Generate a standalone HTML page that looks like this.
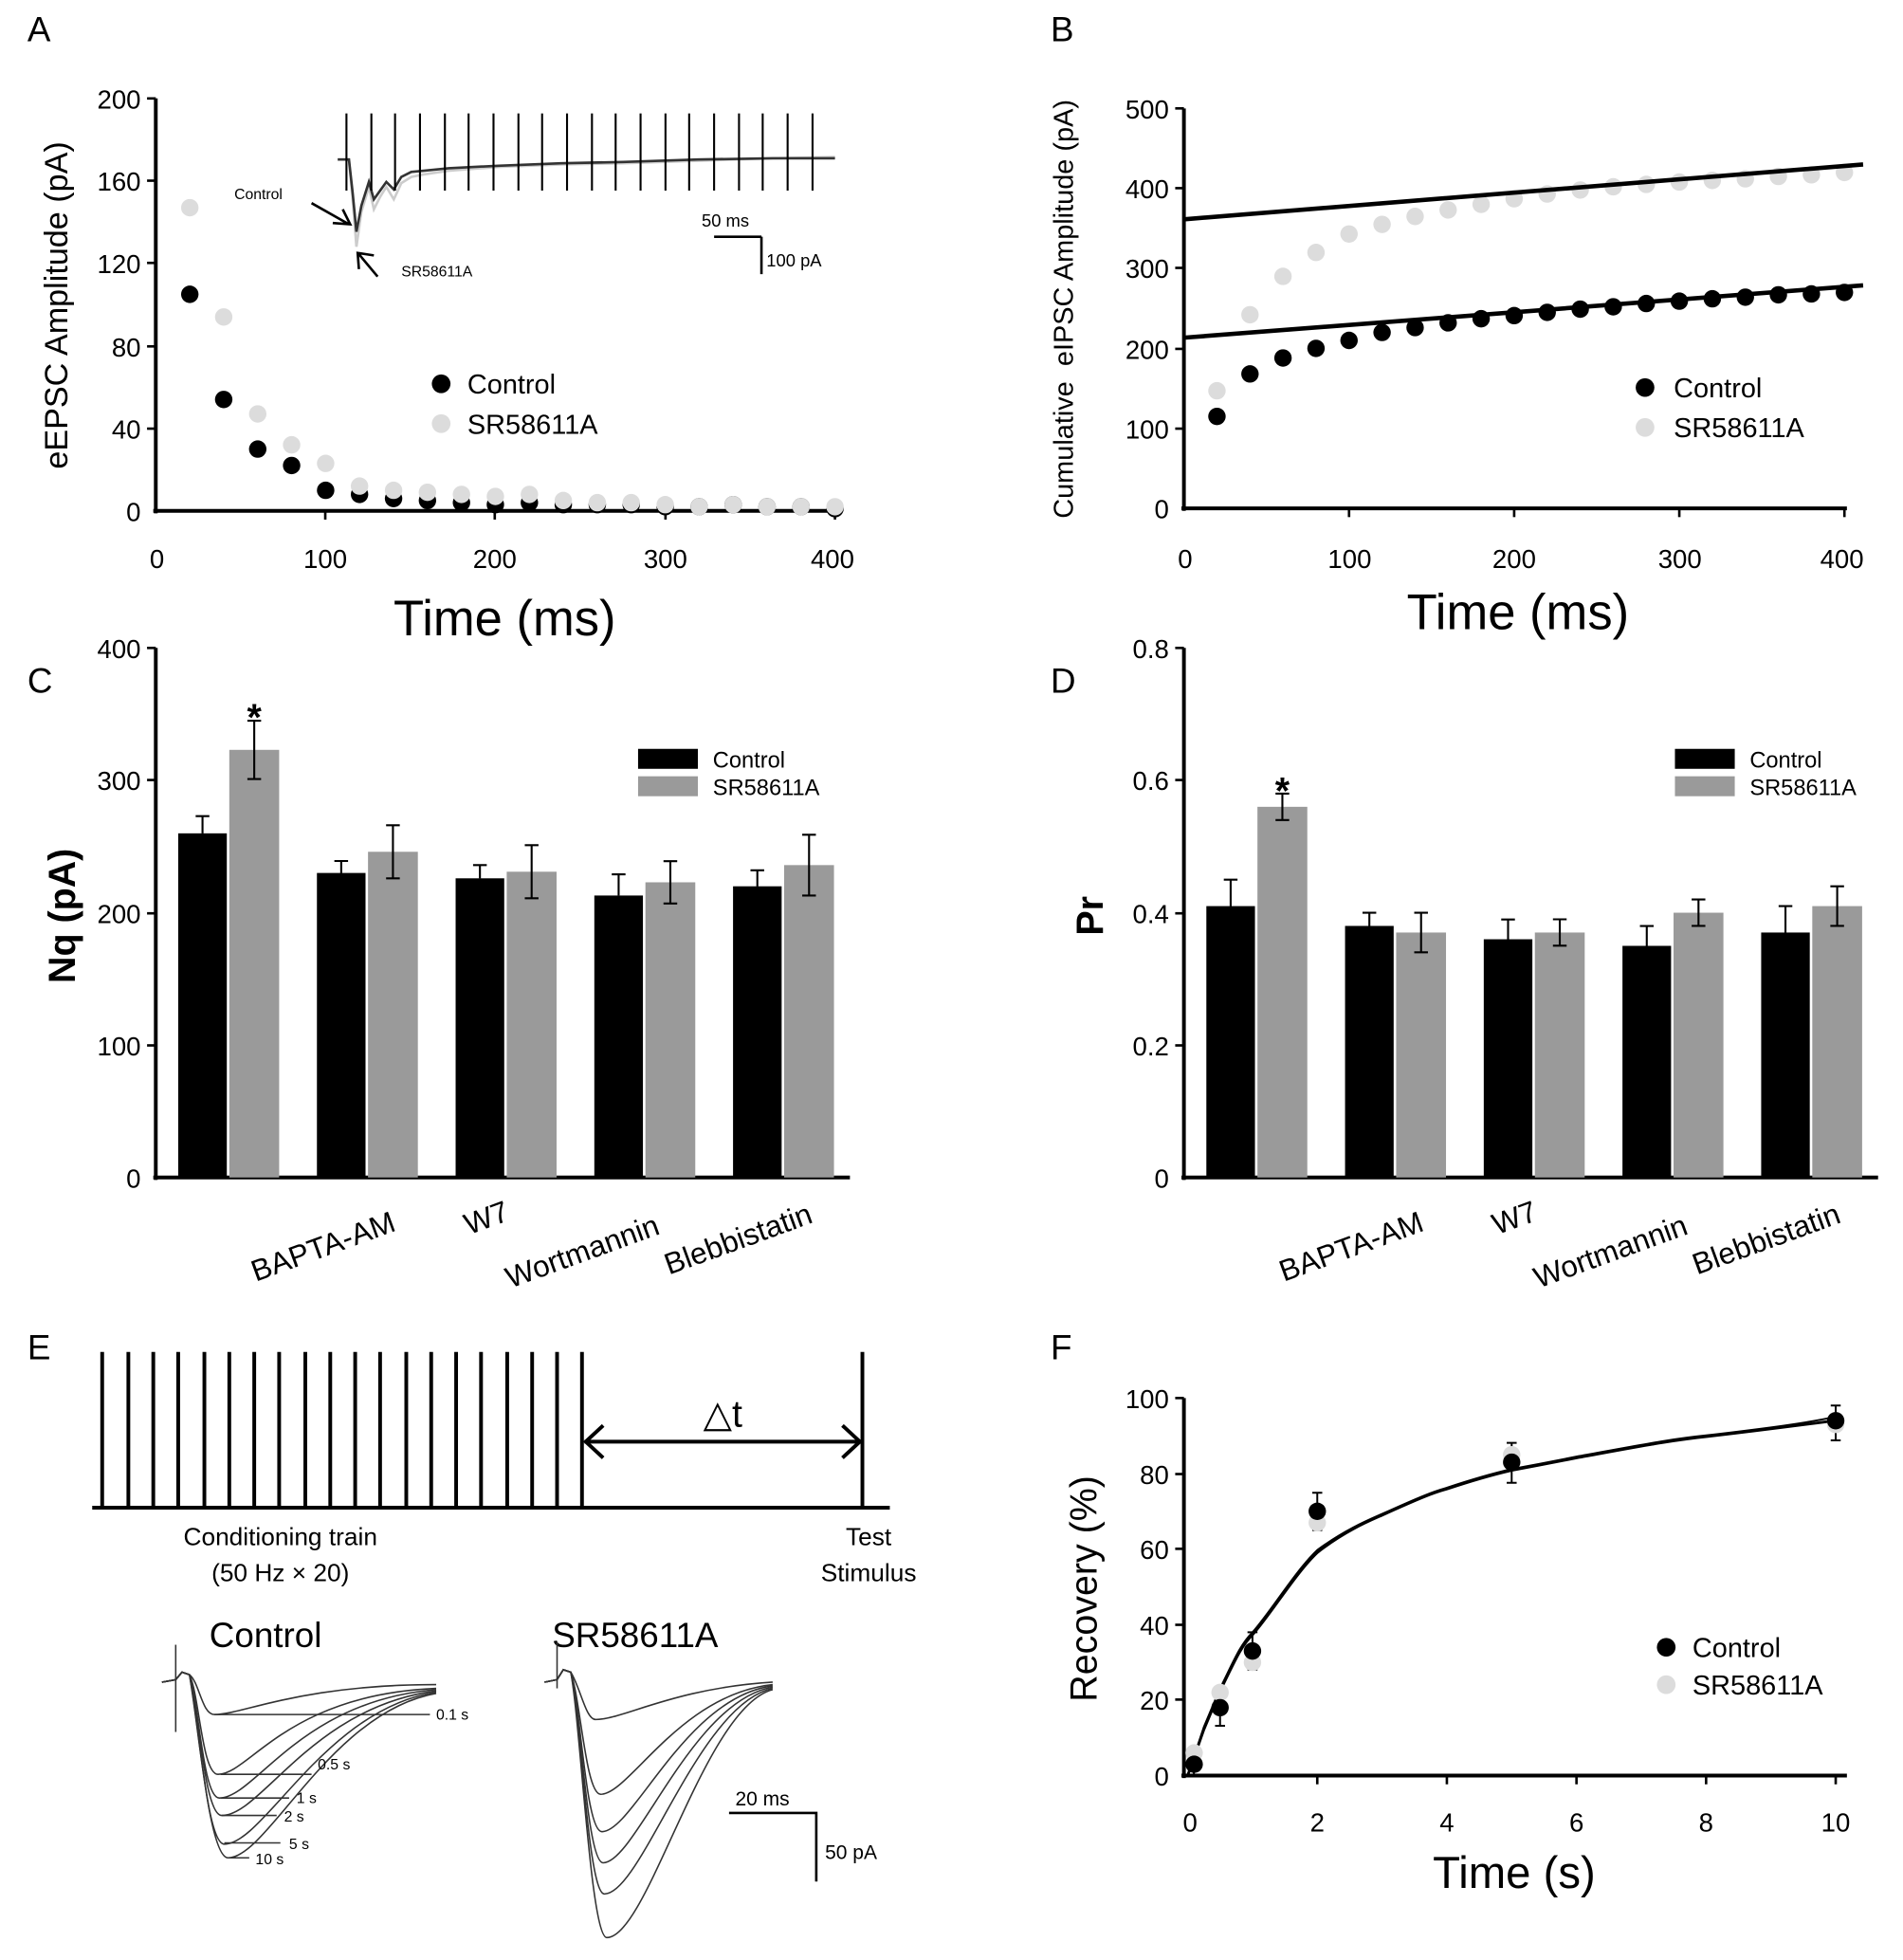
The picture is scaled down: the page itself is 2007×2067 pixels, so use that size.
<!DOCTYPE html>
<html><head><meta charset="utf-8"><style>
html,body{margin:0;padding:0;background:#fff;}
svg{display:block;}
text{font-family:"Liberation Sans",Arial,sans-serif;fill:#000;}
</style></head><body>
<svg width="2007" height="2067" viewBox="0 0 1527 1573" preserveAspectRatio="none" xmlns="http://www.w3.org/2000/svg">
<rect width="1527" height="1573" fill="#fff"/>
<g font-size="28"><text x="22" y="33">A</text><text x="843" y="33">B</text><text x="22" y="556">C</text><text x="843" y="556">D</text><text x="22" y="1091">E</text><text x="843" y="1091">F</text></g>

<!-- ========== A ========== -->
<g stroke="#000" stroke-width="3" fill="none">
<line x1="125" y1="79" x2="125" y2="412"/><line x1="123" y1="410" x2="672" y2="410"/>
</g>
<g stroke="#000" stroke-width="2">
<line x1="118" y1="79" x2="125" y2="79"/><line x1="118" y1="145" x2="125" y2="145"/><line x1="118" y1="211" x2="125" y2="211"/><line x1="118" y1="278" x2="125" y2="278"/><line x1="118" y1="344" x2="125" y2="344"/>
<line x1="261" y1="410" x2="261" y2="417"/><line x1="397" y1="410" x2="397" y2="417"/><line x1="534" y1="410" x2="534" y2="417"/><line x1="670" y1="410" x2="670" y2="417"/>
</g>
<g font-size="21" text-anchor="end"><text x="113" y="87">200</text><text x="113" y="153">160</text><text x="113" y="219">120</text><text x="113" y="286">80</text><text x="113" y="352">40</text><text x="113" y="418">0</text></g>
<g font-size="21" text-anchor="middle"><text x="126" y="456">0</text><text x="261" y="456">100</text><text x="397" y="456">200</text><text x="534" y="456">300</text><text x="668" y="456">400</text></g>
<text x="405" y="510" font-size="40" text-anchor="middle">Time (ms)</text>
<text transform="translate(54,245) rotate(-90)" font-size="26" text-anchor="middle">eEPSC Amplitude (pA)</text>
<g fill="#000">
<circle cx="152.3" cy="236.2" r="7"/><circle cx="179.5" cy="320.6" r="7"/><circle cx="206.8" cy="360.4" r="7"/><circle cx="234" cy="373.6" r="7"/><circle cx="261.3" cy="393.5" r="7"/><circle cx="288.5" cy="396.8" r="7"/><circle cx="315.8" cy="400.1" r="7"/><circle cx="343" cy="401.7" r="7"/><circle cx="370.3" cy="403.4" r="7"/><circle cx="397.5" cy="405" r="7"/><circle cx="424.8" cy="403.4" r="7"/><circle cx="452" cy="405" r="7"/><circle cx="479.3" cy="405" r="7"/><circle cx="506.5" cy="405" r="7"/><circle cx="533.8" cy="406.7" r="7"/><circle cx="561" cy="406.7" r="7"/><circle cx="588.3" cy="405" r="7"/><circle cx="615.5" cy="406.7" r="7"/><circle cx="642.8" cy="406.7" r="7"/><circle cx="670" cy="408.3" r="7"/>
</g>
<g fill="#dcdcdc">
<circle cx="152.3" cy="166.7" r="7"/><circle cx="179.5" cy="254.4" r="7"/><circle cx="206.8" cy="332.2" r="7"/><circle cx="234" cy="357" r="7"/><circle cx="261.3" cy="371.9" r="7"/><circle cx="288.5" cy="390.1" r="7"/><circle cx="315.8" cy="393.5" r="7"/><circle cx="343" cy="395.1" r="7"/><circle cx="370.3" cy="396.8" r="7"/><circle cx="397.5" cy="398.4" r="7"/><circle cx="424.8" cy="396.8" r="7"/><circle cx="452" cy="401.7" r="7"/><circle cx="479.3" cy="403.4" r="7"/><circle cx="506.5" cy="403.4" r="7"/><circle cx="533.8" cy="405" r="7"/><circle cx="561" cy="406.7" r="7"/><circle cx="588.3" cy="405" r="7"/><circle cx="615.5" cy="406.7" r="7"/><circle cx="642.8" cy="406.7" r="7"/><circle cx="670" cy="406.7" r="7"/>
</g>
<path d="M271,128 L280,128 L283,160 L286,198 L290,170 L296,150 L300,168 L305,158 L310,150 L316,160 L322,147 L330,142 L340,140 L360,137 L400,134 L450,132 L500,131 L560,129 L620,127 L670,126" stroke="#ccc" stroke-width="2" fill="none"/>
<path d="M271,128 L280,128 L283,155 L286,186 L290,165 L296,146 L300,160 L305,153 L310,146 L316,152 L322,142 L330,138 L340,137 L360,135 L400,133 L450,131 L500,130 L560,128 L620,127 L670,127" stroke="#333" stroke-width="2" fill="none"/>
<g stroke="#000" stroke-width="1.6">
<line x1="278" y1="91" x2="278" y2="153"/><line x1="298" y1="91" x2="298" y2="153"/><line x1="317" y1="91" x2="317" y2="153"/><line x1="337" y1="91" x2="337" y2="153"/><line x1="357" y1="91" x2="357" y2="153"/><line x1="376" y1="91" x2="376" y2="153"/><line x1="396" y1="91" x2="396" y2="153"/><line x1="416" y1="91" x2="416" y2="153"/><line x1="435" y1="91" x2="435" y2="153"/><line x1="455" y1="91" x2="455" y2="153"/><line x1="475" y1="91" x2="475" y2="153"/><line x1="494" y1="91" x2="494" y2="153"/><line x1="514" y1="91" x2="514" y2="153"/><line x1="534" y1="91" x2="534" y2="153"/><line x1="553" y1="91" x2="553" y2="153"/><line x1="573" y1="91" x2="573" y2="153"/><line x1="593" y1="91" x2="593" y2="153"/><line x1="612" y1="91" x2="612" y2="153"/><line x1="632" y1="91" x2="632" y2="153"/><line x1="652" y1="91" x2="652" y2="153"/>
</g>
<text x="188" y="160" font-size="12">Control</text>
<path d="M250,163 L280,180 M267,179 L281,180 L275,168" stroke="#000" stroke-width="2" fill="none"/>
<path d="M303,222 L288,204 M288,216 L287,203 L300,205" stroke="#000" stroke-width="2" fill="none"/>
<text x="322" y="222" font-size="12">SR58611A</text>
<path d="M573,190 L611,190 M611,190 L611,220" stroke="#000" stroke-width="2" fill="none"/>
<text x="563" y="182" font-size="14">50 ms</text><text x="615" y="214" font-size="14">100 pA</text>
<circle cx="354" cy="308" r="7.5" fill="#000"/><text x="375" y="316" font-size="22">Control</text>
<circle cx="354" cy="340" r="7.5" fill="#dcdcdc"/><text x="375" y="348" font-size="22">SR58611A</text>

<!-- ========== B ========== -->
<g stroke="#000" stroke-width="3" fill="none"><line x1="950" y1="87" x2="950" y2="410"/><line x1="948" y1="408" x2="1482" y2="408"/></g>
<g stroke="#000" stroke-width="2">
<line x1="943" y1="87" x2="950" y2="87"/><line x1="943" y1="151" x2="950" y2="151"/><line x1="943" y1="215" x2="950" y2="215"/><line x1="943" y1="280" x2="950" y2="280"/><line x1="943" y1="344" x2="950" y2="344"/>
<line x1="1082.5" y1="408" x2="1082.5" y2="415"/><line x1="1215" y1="408" x2="1215" y2="415"/><line x1="1347.5" y1="408" x2="1347.5" y2="415"/><line x1="1480" y1="408" x2="1480" y2="415"/>
</g>
<g font-size="21" text-anchor="end"><text x="938" y="95">500</text><text x="938" y="159">400</text><text x="938" y="223">300</text><text x="938" y="288">200</text><text x="938" y="352">100</text><text x="938" y="416">0</text></g>
<g font-size="21" text-anchor="middle"><text x="951" y="456">0</text><text x="1083" y="456">100</text><text x="1215" y="456">200</text><text x="1348" y="456">300</text><text x="1478" y="456">400</text></g>
<text x="1218" y="505" font-size="40" text-anchor="middle">Time (ms)</text>
<text transform="translate(861,248) rotate(-90)" font-size="22" text-anchor="middle" xml:space="preserve">Cumulative  eIPSC Amplitude (pA)</text>
<g fill="#dcdcdc">
<circle cx="976.5" cy="313.6" r="7"/><circle cx="1003" cy="252.6" r="7"/><circle cx="1029.5" cy="221.8" r="7"/><circle cx="1056" cy="202.6" r="7"/><circle cx="1082.5" cy="187.8" r="7"/><circle cx="1109" cy="180.1" r="7"/><circle cx="1135.5" cy="173.7" r="7"/><circle cx="1162" cy="168.5" r="7"/><circle cx="1188.5" cy="164" r="7"/><circle cx="1215" cy="159.5" r="7"/><circle cx="1241.5" cy="155.7" r="7"/><circle cx="1268" cy="152.5" r="7"/><circle cx="1294.5" cy="149.9" r="7"/><circle cx="1321" cy="148" r="7"/><circle cx="1347.5" cy="146.1" r="7"/><circle cx="1374" cy="144.8" r="7"/><circle cx="1400.5" cy="143.5" r="7"/><circle cx="1427" cy="141.6" r="7"/><circle cx="1453.5" cy="140.3" r="7"/><circle cx="1480" cy="138.4" r="7"/>
</g>
<g fill="#000">
<circle cx="976.5" cy="334.2" r="7"/><circle cx="1003" cy="300.1" r="7"/><circle cx="1029.5" cy="287.3" r="7"/><circle cx="1056" cy="279.6" r="7"/><circle cx="1082.5" cy="273.2" r="7"/><circle cx="1109" cy="266.8" r="7"/><circle cx="1135.5" cy="262.9" r="7"/><circle cx="1162" cy="259.1" r="7"/><circle cx="1188.5" cy="255.8" r="7"/><circle cx="1215" cy="253.3" r="7"/><circle cx="1241.5" cy="250.7" r="7"/><circle cx="1268" cy="248.1" r="7"/><circle cx="1294.5" cy="246.2" r="7"/><circle cx="1321" cy="243.6" r="7"/><circle cx="1347.5" cy="241.7" r="7"/><circle cx="1374" cy="239.8" r="7"/><circle cx="1400.5" cy="238.5" r="7"/><circle cx="1427" cy="236.6" r="7"/><circle cx="1453.5" cy="235.9" r="7"/><circle cx="1480" cy="234.7" r="7"/>
</g>
<line x1="950" y1="176" x2="1495" y2="132" stroke="#000" stroke-width="3.5"/>
<line x1="950" y1="271" x2="1495" y2="229" stroke="#000" stroke-width="3.5"/>
<circle cx="1320" cy="311" r="7.5" fill="#000"/><text x="1343" y="319" font-size="22">Control</text>
<circle cx="1320" cy="343" r="7.5" fill="#dcdcdc"/><text x="1343" y="351" font-size="22">SR58611A</text>

<!-- ========== C ========== -->
<g stroke="#000" stroke-width="3" fill="none"><line x1="125" y1="520" x2="125" y2="947"/><line x1="123" y1="945" x2="682" y2="945"/></g>
<g stroke="#000" stroke-width="2"><line x1="118" y1="520" x2="125" y2="520"/><line x1="118" y1="626" x2="125" y2="626"/><line x1="118" y1="733" x2="125" y2="733"/><line x1="118" y1="839" x2="125" y2="839"/></g>
<g font-size="21" text-anchor="end"><text x="113" y="528">400</text><text x="113" y="634">300</text><text x="113" y="741">200</text><text x="113" y="847">100</text><text x="113" y="953">0</text></g>
<text transform="translate(60,735) rotate(-90)" font-size="30" font-weight="bold" text-anchor="middle">Nq (pA)</text>
<g fill="#000">
<rect x="143" y="668.8" width="39" height="276.2"/><rect x="254.3" y="700.6" width="39" height="244.4"/><rect x="365.6" y="704.9" width="39" height="240.1"/><rect x="476.9" y="718.7" width="39" height="226.3"/><rect x="588.2" y="711.3" width="39" height="233.7"/>
</g>
<g fill="#9a9a9a">
<rect x="184" y="601.8" width="40" height="343.2"/><rect x="295.3" y="683.6" width="40" height="261.4"/><rect x="406.6" y="699.6" width="40" height="245.4"/><rect x="517.9" y="708.1" width="40" height="236.9"/><rect x="629.2" y="694.3" width="40" height="250.7"/>
</g>
<g stroke="#000" stroke-width="1.6" fill="none">
<path d="M162.5,668.8V655M157,655H168"/><path d="M273.8,700.6V691M268.3,691H279.3"/><path d="M385.1,704.9V694.3M379.6,694.3H390.6"/><path d="M496.4,718.7V701.7M490.9,701.7H501.9"/><path d="M607.7,711.3V698.5M602.2,698.5H613.2"/>
<path d="M204,601.8V578.4M198.5,578.4H209.5M204,601.8V625.2M198.5,625.2H209.5"/>
<path d="M315.3,683.6V662.3M309.8,662.3H320.8M315.3,683.6V704.9M309.8,704.9H320.8"/>
<path d="M426.6,699.6V678.3M421.1,678.3H432.1M426.6,699.6V720.9M421.1,720.9H432.1"/>
<path d="M537.9,708.1V691.1M532.4,691.1H543.4M537.9,708.1V725.1M532.4,725.1H543.4"/>
<path d="M649.2,694.3V669.9M643.7,669.9H654.7M649.2,694.3V718.7M643.7,718.7H654.7"/>
<path d="M162.5,668.8V682.6M157,682.6H168"/><path d="M273.8,700.6V710.2M268.3,710.2H279.3"/><path d="M385.1,704.9V715.5M379.6,715.5H390.6"/><path d="M496.4,718.7V735.7M490.9,735.7H501.9"/><path d="M607.7,711.3V724.1M602.2,724.1H613.2"/>
</g>
<text x="204" y="586" font-size="30" font-weight="bold" text-anchor="middle">*</text>
<rect x="512" y="601" width="48" height="16" fill="#000"/><text x="572" y="616" font-size="18">Control</text>
<rect x="512" y="623" width="48" height="16" fill="#9a9a9a"/><text x="572" y="638" font-size="18">SR58611A</text>
<g font-size="24" text-anchor="middle">
<text transform="translate(262,1008) rotate(-20)">BAPTA-AM</text>
<text transform="translate(393,985) rotate(-20)">W7</text>
<text transform="translate(470,1012) rotate(-20)">Wortmannin</text>
<text transform="translate(595,1002) rotate(-20)">Blebbistatin</text>
</g>

<!-- ========== D ========== -->
<g stroke="#000" stroke-width="3" fill="none"><line x1="950" y1="520" x2="950" y2="947"/><line x1="948" y1="945" x2="1507" y2="945"/></g>
<g stroke="#000" stroke-width="2"><line x1="943" y1="520" x2="950" y2="520"/><line x1="943" y1="626" x2="950" y2="626"/><line x1="943" y1="733" x2="950" y2="733"/><line x1="943" y1="839" x2="950" y2="839"/></g>
<g font-size="21" text-anchor="end"><text x="938" y="528">0.8</text><text x="938" y="634">0.6</text><text x="938" y="741">0.4</text><text x="938" y="847">0.2</text><text x="938" y="953">0</text></g>
<text transform="translate(885,735) rotate(-90)" font-size="30" font-weight="bold" text-anchor="middle">Pr</text>
<g fill="#000">
<rect x="968" y="727.2" width="39" height="217.8"/><rect x="1079.3" y="743.1" width="39" height="201.9"/><rect x="1190.6" y="753.8" width="39" height="191.2"/><rect x="1301.9" y="759.1" width="39" height="185.9"/><rect x="1413.2" y="748.4" width="39" height="196.6"/>
</g>
<g fill="#9a9a9a">
<rect x="1009" y="647.5" width="40" height="297.5"/><rect x="1120.3" y="748.4" width="40" height="196.6"/><rect x="1231.6" y="748.4" width="40" height="196.6"/><rect x="1342.9" y="732.5" width="40" height="212.5"/><rect x="1454.2" y="727.2" width="40" height="217.8"/>
</g>
<g stroke="#000" stroke-width="1.6" fill="none">
<path d="M987.5,727.2V706M982,706H993M987.5,727.2V748.4M982,748.4H993"/>
<path d="M1098.8,743.1V732.5M1093.3,732.5H1104.3M1098.8,743.1V753.7M1093.3,753.7H1104.3"/>
<path d="M1210.1,753.8V737.9M1204.6,737.9H1215.6M1210.1,753.8V769.7M1204.6,769.7H1215.6"/>
<path d="M1321.4,759.1V743.2M1315.9,743.2H1326.9M1321.4,759.1V775M1315.9,775H1326.9"/>
<path d="M1432.7,748.4V727.2M1427.2,727.2H1438.2M1432.7,748.4V769.6M1427.2,769.6H1438.2"/>
<path d="M1029,647.5V636.9M1023.5,636.9H1034.5M1029,647.5V658.1M1023.5,658.1H1034.5"/>
<path d="M1140.3,748.4V732.5M1134.8,732.5H1145.8M1140.3,748.4V764.3M1134.8,764.3H1145.8"/>
<path d="M1251.6,748.4V737.8M1246.1,737.8H1257.1M1251.6,748.4V759M1246.1,759H1257.1"/>
<path d="M1362.9,732.5V721.9M1357.4,721.9H1368.4M1362.9,732.5V743.1M1357.4,743.1H1368.4"/>
<path d="M1474.2,727.2V711.3M1468.7,711.3H1479.7M1474.2,727.2V743.1M1468.7,743.1H1479.7"/>
</g>
<text x="1029" y="645" font-size="30" font-weight="bold" text-anchor="middle">*</text>
<rect x="1344" y="601" width="48" height="16" fill="#000"/><text x="1404" y="616" font-size="18">Control</text>
<rect x="1344" y="623" width="48" height="16" fill="#9a9a9a"/><text x="1404" y="638" font-size="18">SR58611A</text>
<g font-size="24" text-anchor="middle">
<text transform="translate(1087,1008) rotate(-20)">BAPTA-AM</text>
<text transform="translate(1218,985) rotate(-20)">W7</text>
<text transform="translate(1295,1012) rotate(-20)">Wortmannin</text>
<text transform="translate(1420,1002) rotate(-20)">Blebbistatin</text>
</g>

<!-- ========== E ========== -->
<g stroke="#000" stroke-width="3">
<line x1="74" y1="1210" x2="714" y2="1210"/>
<line x1="82" y1="1085" x2="82" y2="1210"/><line x1="103" y1="1085" x2="103" y2="1210"/><line x1="123" y1="1085" x2="123" y2="1210"/><line x1="143" y1="1085" x2="143" y2="1210"/><line x1="164" y1="1085" x2="164" y2="1210"/><line x1="184" y1="1085" x2="184" y2="1210"/><line x1="204" y1="1085" x2="204" y2="1210"/><line x1="224" y1="1085" x2="224" y2="1210"/><line x1="245" y1="1085" x2="245" y2="1210"/><line x1="265" y1="1085" x2="265" y2="1210"/><line x1="285" y1="1085" x2="285" y2="1210"/><line x1="305" y1="1085" x2="305" y2="1210"/><line x1="326" y1="1085" x2="326" y2="1210"/><line x1="346" y1="1085" x2="346" y2="1210"/><line x1="366" y1="1085" x2="366" y2="1210"/><line x1="386" y1="1085" x2="386" y2="1210"/><line x1="407" y1="1085" x2="407" y2="1210"/><line x1="427" y1="1085" x2="427" y2="1210"/><line x1="447" y1="1085" x2="447" y2="1210"/><line x1="467" y1="1085" x2="467" y2="1210"/>
<line x1="692" y1="1085" x2="692" y2="1210"/>
<line x1="469" y1="1157" x2="690" y2="1157"/>
</g>
<path d="M484,1144 L470,1157 L484,1170 M676,1144 L690,1157 L676,1170" stroke="#000" stroke-width="3" fill="none"/>
<text x="580" y="1145" font-size="30" text-anchor="middle">△t</text>
<g font-size="20" text-anchor="middle"><text x="225" y="1240">Conditioning train</text><text x="225" y="1269">(50 Hz × 20)</text><text x="697" y="1240">Test</text><text x="697" y="1269">Stimulus</text></g>
<text x="168" y="1322" font-size="28">Control</text>
<text x="443" y="1322" font-size="28">SR58611A</text>
<g stroke="#333" stroke-width="1.2" fill="none">
<line x1="141" y1="1320" x2="141" y2="1390"/>
<path d="M130,1350 L141,1348 L146,1342 L152,1344 C160,1350 162,1376 172,1376 C195,1376 240,1352 350,1352"/>
<path d="M130,1350 L141,1348 L146,1342 L152,1344 C160,1360 162,1424 175,1424 C200,1424 230,1360 350,1355"/>
<path d="M130,1350 L141,1348 L146,1342 L152,1344 C160,1370 163,1443 176,1443 C205,1443 240,1365 350,1356"/>
<path d="M130,1350 L141,1348 L146,1342 L152,1344 C160,1375 164,1457 178,1457 C210,1457 250,1370 350,1357"/>
<path d="M130,1350 L141,1348 L146,1342 L152,1344 C160,1385 166,1480 180,1480 C212,1480 260,1372 350,1358"/>
<path d="M130,1350 L141,1348 L146,1342 L152,1344 C160,1390 168,1491 183,1491 C215,1491 265,1374 350,1359"/>
<line x1="447" y1="1318" x2="447" y2="1355"/>
<path d="M437,1350 L447,1348 L452,1340 L458,1342 C466,1355 470,1380 478,1380 C500,1380 540,1355 620,1350"/>
<path d="M437,1350 L447,1348 L452,1340 L458,1342 C466,1365 470,1440 482,1440 C505,1440 545,1360 620,1352"/>
<path d="M437,1350 L447,1348 L452,1340 L458,1342 C466,1370 470,1470 483,1470 C508,1470 550,1362 620,1353"/>
<path d="M437,1350 L447,1348 L452,1340 L458,1342 C466,1375 471,1495 484,1495 C510,1495 555,1365 620,1354"/>
<path d="M437,1350 L447,1348 L452,1340 L458,1342 C466,1380 472,1520 485,1520 C515,1520 560,1368 620,1355"/>
<path d="M437,1350 L447,1348 L452,1340 L458,1342 C466,1385 474,1555 487,1555 C520,1555 565,1370 620,1356"/>
<path d="M172,1376 H345 M177,1424 H250 M177,1443 H232 M178,1457 H222 M180,1479 H225 M183,1491 H200"/>
</g>
<g font-size="12"><text x="350" y="1380">0.1 s</text><text x="255" y="1420">0.5 s</text><text x="238" y="1447">1 s</text><text x="228" y="1462">2 s</text><text x="232" y="1484">5 s</text><text x="205" y="1496">10 s</text></g>
<path d="M585,1455 H655 V1510" stroke="#000" stroke-width="2" fill="none"/>
<text x="590" y="1449" font-size="16">20 ms</text><text x="662" y="1492" font-size="16">50 pA</text>

<!-- ========== F ========== -->
<g stroke="#000" stroke-width="3" fill="none"><line x1="950" y1="1122" x2="950" y2="1427"/><line x1="948" y1="1425" x2="1482" y2="1425"/></g>
<g stroke="#000" stroke-width="2">
<line x1="943" y1="1122" x2="950" y2="1122"/><line x1="943" y1="1183" x2="950" y2="1183"/><line x1="943" y1="1243" x2="950" y2="1243"/><line x1="943" y1="1304" x2="950" y2="1304"/><line x1="943" y1="1364" x2="950" y2="1364"/>
<line x1="1057" y1="1425" x2="1057" y2="1432"/><line x1="1161" y1="1425" x2="1161" y2="1432"/><line x1="1265" y1="1425" x2="1265" y2="1432"/><line x1="1369" y1="1425" x2="1369" y2="1432"/><line x1="1473" y1="1425" x2="1473" y2="1432"/>
</g>
<g font-size="21" text-anchor="end"><text x="938" y="1130">100</text><text x="938" y="1191">80</text><text x="938" y="1251">60</text><text x="938" y="1312">40</text><text x="938" y="1372">20</text><text x="938" y="1433">0</text></g>
<g font-size="21" text-anchor="middle"><text x="955" y="1470">0</text><text x="1057" y="1470">2</text><text x="1161" y="1470">4</text><text x="1265" y="1470">6</text><text x="1369" y="1470">8</text><text x="1473" y="1470">10</text></g>
<text x="1215" y="1515" font-size="36" text-anchor="middle">Time (s)</text>
<text transform="translate(880,1275) rotate(-90)" font-size="30" text-anchor="middle">Recovery (%)</text>
<path d="M953,1425 L966,1388 L979,1357 C990,1335 995,1322 1005,1312 C1020,1295 1040,1262 1057,1246 C1080,1228 1100,1220 1109,1216 C1140,1202 1150,1198 1161,1195 C1185,1187 1200,1183 1213,1180 C1240,1175 1255,1172 1265,1170 C1320,1160 1340,1156 1369,1153 C1420,1147 1450,1143 1473,1140" stroke="#000" stroke-width="2.2" fill="none"/>
<path d="M953,1425 L966,1386 L979,1355 C990,1333 995,1320 1005,1310 C1020,1293 1040,1260 1057,1244 C1080,1227 1100,1219 1109,1215 C1140,1201 1150,1197 1161,1194 C1185,1186 1200,1182 1213,1179 C1240,1174 1255,1171 1265,1169 C1320,1159 1340,1155 1369,1152 C1420,1146 1450,1142 1473,1137" stroke="#000" stroke-width="1.5" fill="none"/>
<g stroke="#000" stroke-width="1.5" fill="none">
<path d="M958,1406V1425M954,1406H962"/><path d="M979,1355V1385M975,1355H983M975,1385H983"/><path d="M1005,1310V1340M1001,1310H1009M1001,1340H1009"/><path d="M1057,1198V1228M1053,1198H1061M1053,1228H1061"/><path d="M1213,1158V1190M1209,1158H1217M1209,1190H1217"/><path d="M1473,1128V1156M1469,1128H1477M1469,1156H1477"/>
</g>
<g fill="#dcdcdc"><circle cx="958.2" cy="1406.8" r="7"/><circle cx="979" cy="1358.3" r="7"/><circle cx="1005" cy="1334.1" r="7"/><circle cx="1057" cy="1222" r="7"/><circle cx="1213" cy="1167.5" r="7"/><circle cx="1473" cy="1143.2" r="7"/></g>
<g fill="#000"><circle cx="958.2" cy="1415.9" r="7"/><circle cx="979" cy="1370.5" r="7"/><circle cx="1005" cy="1325" r="7"/><circle cx="1057" cy="1212.9" r="7"/><circle cx="1213" cy="1173.5" r="7"/><circle cx="1473" cy="1140.2" r="7"/></g>
<circle cx="1337" cy="1322" r="7.5" fill="#000"/><text x="1358" y="1330" font-size="22">Control</text>
<circle cx="1337" cy="1352" r="7.5" fill="#dcdcdc"/><text x="1358" y="1360" font-size="22">SR58611A</text>
</svg>
</body></html>
